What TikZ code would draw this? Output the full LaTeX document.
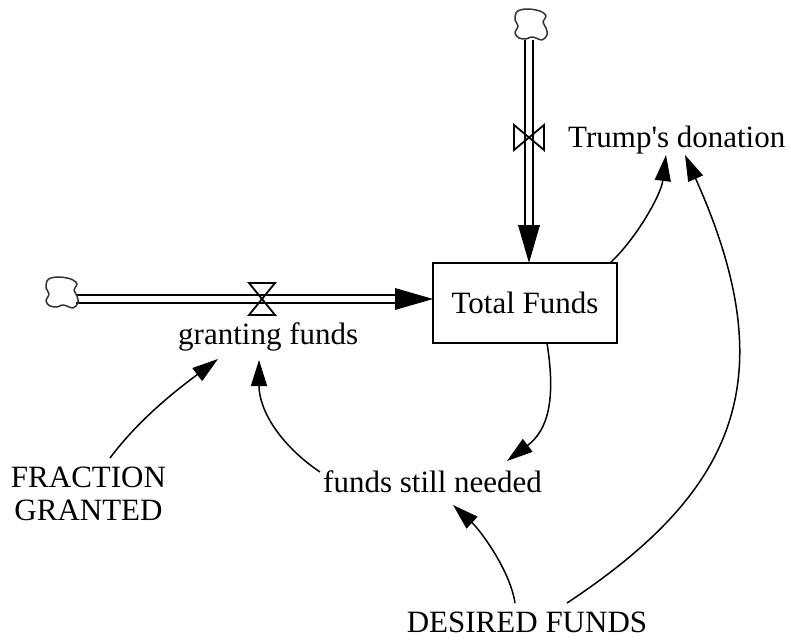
\documentclass[tikz,border=0pt]{standalone}
\usepackage{fontspec}
\newfontfamily\vfont{Liberation Serif}
\usetikzlibrary{arrows.meta}
\begin{document}
\begin{tikzpicture}[x=1pt,y=-1pt,
  lbl/.style={font=\vfont\fontsize{31}{33}\selectfont, inner sep=0pt},
  link/.style={line width=1.5pt, -{Triangle[length=26pt,width=16pt]}},
  pipe/.style={line width=2pt, double distance=6pt},
  flowhead/.style={fill=black},
  valve/.style={line width=1.8pt, line join=miter},
  cloudline/.style={line width=1.5pt, draw=black!80, line join=round},
  cloud/.pic={\draw[cloudline] plot[smooth cycle, tension=0.6] coordinates {(-11,-15) (-3,-16) (5,-15) (11,-13) (15,-9) (12,-3) (15,3) (16,10) (11,15) (5,13) (0,12) (-5,14) (-12,13) (-16,8) (-13,1) (-16,-5) (-15,-12)};}]
\useasboundingbox (0,0) rectangle (791,639);

% nodes
\node[lbl, anchor=base west] (trump) at (568,148) {Trump's donation};
\node[lbl, draw, line width=1.8pt, minimum width=184pt, minimum height=80pt] (total) at (525,303) {Total Funds};
\node[lbl, anchor=base west] (grant) at (178,344) {granting funds};
\node[lbl, anchor=base west] (needed) at (323,492) {funds still needed};
\node[lbl, align=center] (frac) at (88.5,494) {FRACTION\\GRANTED};
\node[lbl, anchor=base] (desired) at (527,632) {DESIRED FUNDS};

% clouds
\coordinate (cloudtop) at (531,25);
\coordinate (cloudleft) at (62,293);

% vertical flow
\coordinate (vstart) at (529,40);
\coordinate (vend) at (529,263);
\coordinate (vvalve) at (529,137.5);
\draw[pipe] (vstart) -- ([yshift=36pt]vend);
\fill[flowhead] (vend) -- ++(-11,-38) -- ++(22,0) -- cycle;
\draw[valve] (vvalve) -- ++(-15,-12.5) -- ++(0,25) -- cycle;
\draw[valve] (vvalve) -- ++(15,-12.5) -- ++(0,25) -- cycle;
\pic at (cloudtop) {cloud};

% horizontal flow
\coordinate (hstart) at (76,299);
\coordinate (hend) at (433,299);
\coordinate (hvalve) at (262,299);
\draw[pipe] (hstart) -- ([xshift=-36pt]hend);
\fill[flowhead] (hend) -- ++(-38,-11) -- ++(0,22) -- cycle;
\draw[valve] (hvalve) -- ++(-13,-16) -- ++(26,0) -- cycle;
\draw[valve] (hvalve) -- ++(-13,16) -- ++(26,0) -- cycle;
\pic at (cloudleft) {cloud};

% connector end points
\coordinate (a1s) at (110,458);
\coordinate (a1e) at (218,359);
\coordinate (a2s) at (320,472);
\coordinate (a2e) at (259,360);
\coordinate (a3s) at (547,343);
\coordinate (a3e) at (507,461);
\coordinate (a4s) at (515,603);
\coordinate (a4e) at (453,505);
\coordinate (a5s) at (610,263);
\coordinate (a5e) at (666,155);
\coordinate (a6s) at (567,603);
\coordinate (a6e) at (685,155);

\draw[link] (a1s) .. controls (140,418) and (178,389) .. (a1e);
\draw[link] (a2s) .. controls (280,445) and (259,410) .. (a2e);
\draw[link] (a3s) .. controls (556,400) and (548,430) .. (a3e);
\draw[link] (a4s) .. controls (510,570) and (480,530) .. (a4e);
\draw[link] (a5s) .. controls (636,239) and (661,195) .. (a5e);
\draw[link] (a6s) .. controls (733,493) and (787,382) .. (a6e);
\end{tikzpicture}
\end{document}
